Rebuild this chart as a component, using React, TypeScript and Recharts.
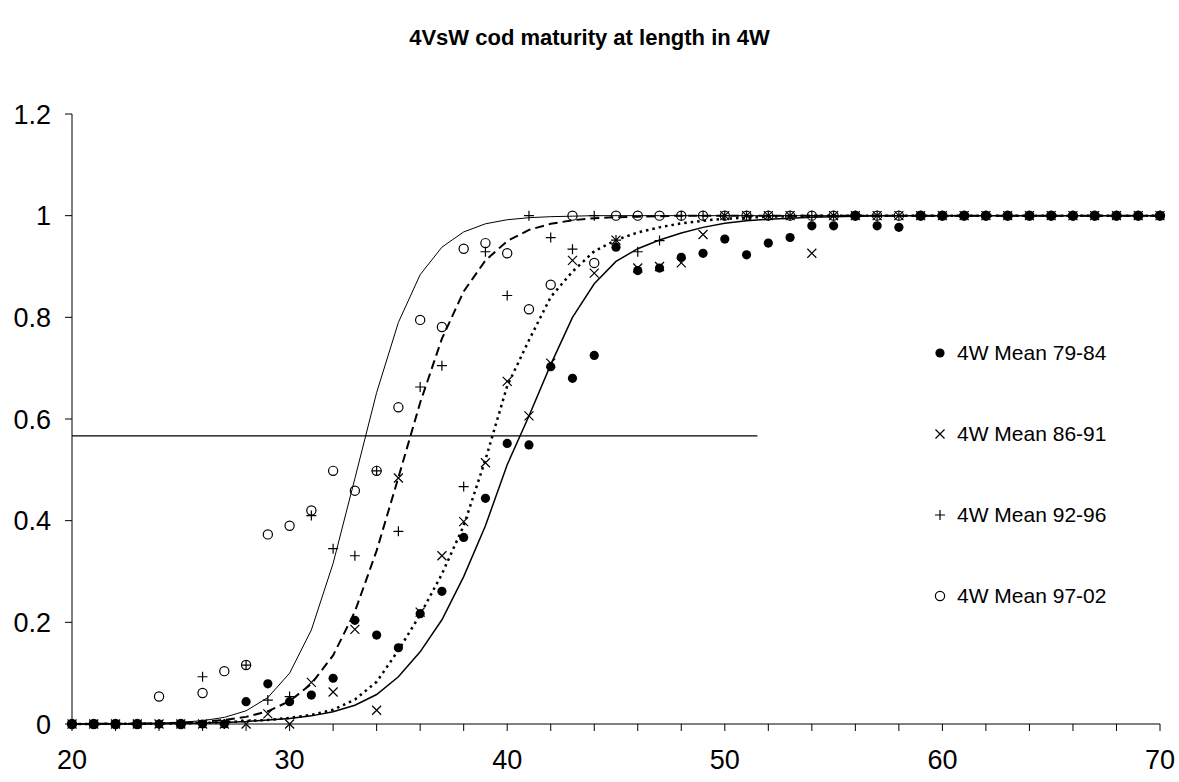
import React from "react"
import { ComposedChart, Line, Scatter, XAxis, YAxis } from "recharts"

// lengths (cm) sampled in 4W
const LENGTHS = [
  20, 21, 22, 23, 24, 25, 26, 27, 28, 29, 30, 31, 32, 33, 34, 35, 36, 37, 38, 39, 40, 41, 42, 43, 44, 45,
  46, 47, 48, 49, 50, 51, 52, 53, 54, 55, 56, 57, 58, 59, 60, 61, 62, 63, 64, 65, 66, 67, 68, 69, 70,
]

// observed proportion mature
const MEAN_79_84 = [
  0, 0, 0, 0, 0, 0, 0, 0, 0.044, 0.079, 0.044, 0.057, 0.09, 0.204, 0.175, 0.15, 0.217, 0.261, 0.367, 0.444,
  0.552, 0.549, 0.703, 0.68, 0.725, 0.938, 0.892, 0.897, 0.918, 0.926, 0.954, 0.923, 0.946, 0.957, 0.98, 0.98,
  1, 0.98, 0.977, 1, 1, 1, 1, 1, 1, 1, 1, 1, 1, 1, 1,
]
const MEAN_86_91 = [
  0, 0, 0, 0, 0, 0, 0, 0, 0, 0.02, 0, 0.082, 0.063, 0.186, 0.027, 0.484, 0.22, 0.331, 0.398, 0.514, 0.674,
  0.606, 0.71, 0.912, 0.887, 0.952, 0.897, 0.9, 0.907, 0.963, 1, 1, 1, 1, 0.926, 1, 1, 1, 1, 1, 1, 1, 1, 1, 1,
  1, 1, 1, 1, 1, 1,
]
const MEAN_92_96 = [
  0, 0, 0, 0, 0, 0, 0.093, 0, 0.116, 0.047, 0.054, 0.41, 0.345, 0.331, 0.498, 0.379, 0.663, 0.705, 0.467,
  0.929, 0.843, 1, 0.957, 0.934, 1, 0.952, 0.929, 0.951, 1, 1, 1, 1, 1, 1, 1, 1, 1, 1, 1, 1, 1, 1, 1, 1, 1,
  1, 1, 1, 1, 1, 1,
]
const MEAN_97_02 = [
  0, 0, 0, 0, 0.054, 0, 0.061, 0.104, 0.116, 0.373, 0.39, 0.42, 0.498, 0.459, 0.498, 0.623, 0.795, 0.781,
  0.935, 0.946, 0.926, 0.816, 0.864, 1, 0.907, 1, 1, 1, 1, 1, 1, 1, 1, 1, 1, 1, 1, 1, 1, 1, 1, 1, 1, 1, 1, 1,
  1, 1, 1, 1, 1,
]

// fitted ogives
const FIT_79_84 = [
  0.0001, 0.0002, 0.0003, 0.0005, 0.0008, 0.0012, 0.0019, 0.003, 0.005, 0.008, 0.011, 0.016, 0.024, 0.037,
  0.058, 0.093, 0.142, 0.205, 0.29, 0.39, 0.51, 0.606, 0.707, 0.8, 0.866, 0.91, 0.935, 0.952, 0.966, 0.977,
  0.985, 0.99, 0.993, 0.995, 0.997, 0.998, 0.999, 1, 1, 1, 1, 1, 1, 1, 1, 1, 1, 1, 1, 1, 1,
]
const FIT_86_91 = [
  0.0001, 0.0002, 0.0003, 0.0005, 0.0008, 0.0013, 0.002, 0.0035, 0.006, 0.008, 0.012, 0.018, 0.028, 0.048,
  0.083, 0.145, 0.215, 0.295, 0.39, 0.52, 0.665, 0.755, 0.84, 0.89, 0.93, 0.952, 0.967, 0.977, 0.985, 0.99,
  0.994, 0.996, 0.998, 0.999, 1, 1, 1, 1, 1, 1, 1, 1, 1, 1, 1, 1, 1, 1, 1, 1, 1,
]
const FIT_92_96 = [
  0.0001, 0.0002, 0.0004, 0.0007, 0.0013, 0.0023, 0.0042, 0.0077, 0.014, 0.025, 0.045, 0.079, 0.135, 0.221,
  0.341, 0.485, 0.632, 0.758, 0.851, 0.912, 0.95, 0.972, 0.984, 0.991, 0.995, 0.997, 0.998, 0.999, 1, 1, 1,
  1, 1, 1, 1, 1, 1, 1, 1, 1, 1, 1, 1, 1, 1, 1, 1, 1, 1, 1, 1,
]
const FIT_97_02 = [
  0.0001, 0.0002, 0.0004, 0.0008, 0.0016, 0.0033, 0.0066, 0.013, 0.026, 0.052, 0.1, 0.185, 0.316, 0.483,
  0.652, 0.79, 0.884, 0.938, 0.968, 0.984, 0.992, 0.996, 0.998, 0.999, 1, 1, 1, 1, 1, 1, 1, 1, 1, 1, 1, 1, 1,
  1, 1, 1, 1, 1, 1, 1, 1, 1, 1, 1, 1, 1, 1,
]

// horizontal cut line
const CUT_LEVEL = 0.567
const CUT_FROM = 20
const CUT_TO = 51.5

const X_TICKS = [20, 22, 24, 26, 28, 30, 32, 34, 36, 38, 40, 42, 44, 46, 48, 50, 52, 54, 56, 58, 60, 62, 64, 66, 68, 70]
const Y_TICKS = [0, 0.2, 0.4, 0.6, 0.8, 1, 1.2]

const LEGEND = ["4W Mean 79-84", "4W Mean 86-91", "4W Mean 92-96", "4W Mean 97-02"]

const FONT = "'Liberation Sans', Arial, sans-serif"

const toPoints = (ys: number[]) => LENGTHS.map((x, i) => ({ x, y: ys[i] }))

function Dot({ cx, cy }: any) {
  return <circle cx={cx} cy={cy} r={4.6} fill="#000" />
}
function Cross({ cx, cy }: any) {
  const s = 4.5
  return (
    <path
      d={`M${cx - s},${cy - s}L${cx + s},${cy + s}M${cx - s},${cy + s}L${cx + s},${cy - s}`}
      stroke="#000"
      strokeWidth={1.2}
      fill="none"
    />
  )
}
function Plus({ cx, cy }: any) {
  const s = 5
  return (
    <path d={`M${cx - s},${cy}L${cx + s},${cy}M${cx},${cy - s}L${cx},${cy + s}`} stroke="#000" strokeWidth={1.2} fill="none" />
  )
}
function Ring({ cx, cy }: any) {
  return <circle cx={cx} cy={cy} r={4.6} fill="none" stroke="#000" strokeWidth={1.2} />
}

const MARKERS = [Dot, Cross, Plus, Ring]

function LegendIcon({ index }: { index: number }) {
  const Shape = MARKERS[index]
  return (
    <svg width={14} height={14} style={{ display: "block" }}>
      <Shape cx={7} cy={7} />
    </svg>
  )
}

export default function App() {
  const tick = { fontSize: 27, fill: "#000", fontFamily: FONT }

  return (
    <div
      style={{
        position: "absolute",
        left: 0,
        top: 0,
        width: 1179,
        height: 782,
        background: "white",
        fontFamily: FONT,
        overflow: "hidden",
      }}
    >
      {/* Title */}
      <div
        style={{
          position: "absolute",
          top: 25,
          left: 0,
          width: 1179,
          textAlign: "center",
          fontSize: 22,
          fontWeight: 700,
        }}
      >
        4VsW cod maturity at length in 4W
      </div>

      <ComposedChart width={1179} height={782} margin={{ top: 114, right: 19, bottom: 0, left: 0 }}>
        <XAxis
          type="number"
          dataKey="x"
          domain={[20, 70]}
          ticks={X_TICKS}
          interval={0}
          tickFormatter={(v: number) => (v % 10 === 0 ? String(v) : "")}
          tick={tick}
          tickSize={7}
          tickMargin={19}
          height={58}
          axisLine={{ stroke: "#000" }}
          tickLine={{ stroke: "#000" }}
        />
        <YAxis
          type="number"
          domain={[0, 1.2]}
          ticks={Y_TICKS}
          interval={0}
          tickFormatter={(v: number) => String(Math.round(v * 10) / 10)}
          tick={tick}
          tickSize={7}
          tickMargin={14}
          width={72}
          axisLine={{ stroke: "#000" }}
          tickLine={{ stroke: "#000" }}
        />

        <Line
          data={[
            { x: CUT_FROM, y: CUT_LEVEL },
            { x: CUT_TO, y: CUT_LEVEL },
          ]}
          dataKey="y"
          type="linear"
          stroke="#000"
          strokeWidth={1.3}
          dot={false}
          isAnimationActive={false}
        />

        <Scatter data={toPoints(MEAN_79_84)} dataKey="y" shape={<Dot />} isAnimationActive={false} />
        <Scatter data={toPoints(MEAN_86_91)} dataKey="y" shape={<Cross />} isAnimationActive={false} />
        <Scatter data={toPoints(MEAN_92_96)} dataKey="y" shape={<Plus />} isAnimationActive={false} />
        <Scatter data={toPoints(MEAN_97_02)} dataKey="y" shape={<Ring />} isAnimationActive={false} />

        <Line data={toPoints(FIT_79_84)} dataKey="y" type="linear" stroke="#000" strokeWidth={1.5} dot={false} isAnimationActive={false} />
        <Line
          data={toPoints(FIT_86_91)}
          dataKey="y"
          type="linear"
          stroke="#000"
          strokeWidth={2.5}
          strokeDasharray="2.5 4"
          dot={false}
          isAnimationActive={false}
        />
        <Line
          data={toPoints(FIT_92_96)}
          dataKey="y"
          type="linear"
          stroke="#000"
          strokeWidth={2}
          strokeDasharray="9 5"
          dot={false}
          isAnimationActive={false}
        />
        <Line data={toPoints(FIT_97_02)} dataKey="y" type="linear" stroke="#000" strokeWidth={1} dot={false} isAnimationActive={false} />
      </ComposedChart>

      {/* Legend */}
      <div style={{ position: "absolute", left: 933, top: 340 }}>
        {LEGEND.map((label, i) => (
          <div key={label} style={{ display: "flex", alignItems: "center", gap: 10, height: 26, marginBottom: i < 3 ? 55 : 0 }}>
            <LegendIcon index={i} />
            <span style={{ fontSize: 21, color: "#000" }}>{label}</span>
          </div>
        ))}
      </div>
    </div>
  )
}
